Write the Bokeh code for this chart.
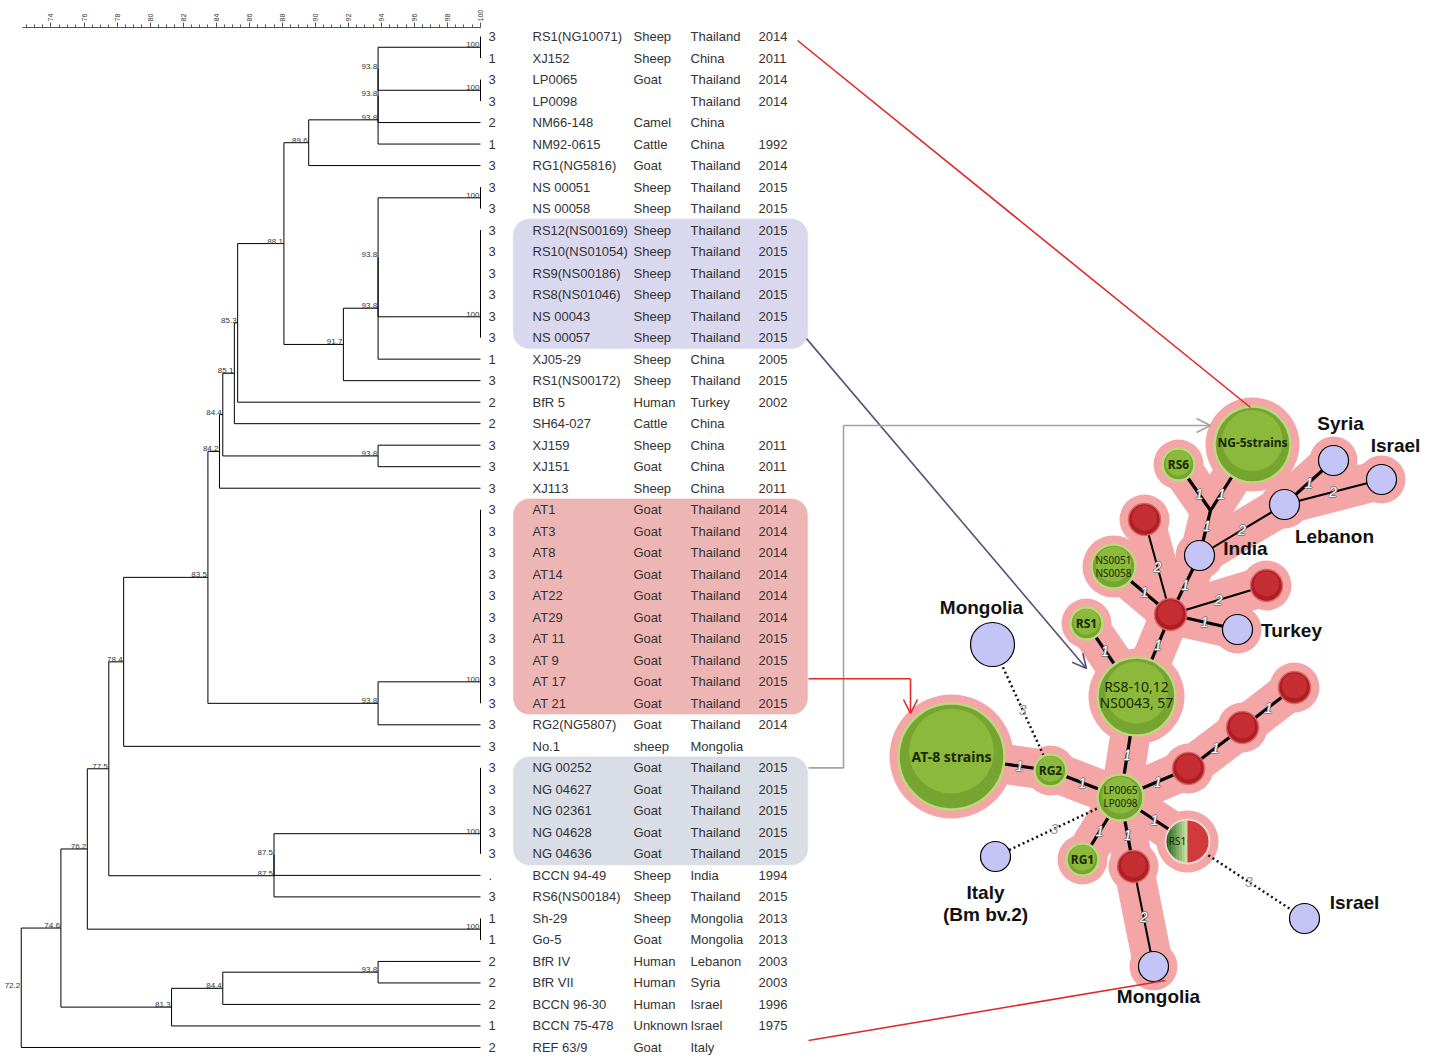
import numpy as np
from bokeh.plotting import figure
from bokeh.models import Range1d, LinearAxis, FixedTicker, BoxAnnotation, Arrow, OpenHead
from bokeh.core.properties import value
from bokeh.embed import file_html
from bokeh.resources import INLINE

# ---------------- data: strain table ----------------
groups = (["3", "1", "3", "3", "2", "1", "3", "3", "3",
           "3", "3", "3", "3", "3", "3",
           "1", "3", "2", "2", "3", "3", "3"]
          + ["3"] * 10 + ["3", "3"] + ["3"] * 5
          + [".", "3", "1", "1", "2", "2", "2", "1", "2"])
names = ["RS1(NG10071)", "XJ152", "LP0065", "LP0098", "NM66-148", "NM92-0615", "RG1(NG5816)",
         "NS 00051", "NS 00058", "RS12(NS00169)", "RS10(NS01054)", "RS9(NS00186)", "RS8(NS01046)",
         "NS 00043", "NS 00057", "XJ05-29", "RS1(NS00172)", "BfR 5", "SH64-027", "XJ159", "XJ151",
         "XJ113", "AT1", "AT3", "AT8", "AT14", "AT22", "AT29", "AT 11", "AT 9", "AT 17", "AT 21",
         "RG2(NG5807)", "No.1", "NG 00252", "NG 04627", "NG 02361", "NG 04628", "NG 04636",
         "BCCN 94-49", "RS6(NS00184)", "Sh-29", "Go-5", "BfR IV", "BfR VII", "BCCN 96-30",
         "BCCN 75-478", "REF 63/9"]
hosts = (["Sheep", "Sheep", "Goat", "", "Camel", "Cattle", "Goat", "Sheep", "Sheep"]
         + ["Sheep"] * 6
         + ["Sheep", "Sheep", "Human", "Cattle", "Sheep", "Goat", "Sheep"]
         + ["Goat"] * 10 + ["Goat", "sheep"] + ["Goat"] * 5
         + ["Sheep", "Sheep", "Sheep", "Goat", "Human", "Human", "Human", "Unknown", "Goat"])
countries = (["Thailand", "China", "Thailand", "Thailand", "China", "China", "Thailand", "Thailand", "Thailand"]
             + ["Thailand"] * 6
             + ["China", "Thailand", "Turkey", "China", "China", "China", "China"]
             + ["Thailand"] * 10 + ["Thailand", "Mongolia"] + ["Thailand"] * 5
             + ["India", "Thailand", "Mongolia", "Mongolia", "Lebanon", "Syria", "Israel", "Israel", "Italy"])
years = (["2014", "2011", "2014", "2014", "", "1992", "2014", "2015", "2015"]
         + ["2015"] * 6
         + ["2005", "2015", "2002", "", "2011", "2011", "2011"]
         + ["2014"] * 6 + ["2015"] * 4 + ["2014", ""] + ["2015"] * 5
         + ["1994", "2015", "2013", "2013", "2003", "2003", "1996", "1975", ""])

# dendrogram merges (child a, child b, similarity %); leaves 0..47, merge k -> id 48+k
merges = [
    (0, 1, 100), (2, 3, 100), (48, 49, 93.8), (50, 4, 93.8), (51, 5, 93.8), (52, 6, 89.6),
    (7, 8, 100), (9, 10, 100), (55, 11, 100), (56, 12, 100), (57, 13, 100), (58, 14, 100),
    (54, 59, 93.8), (60, 15, 93.8), (61, 16, 91.7), (53, 62, 88.1), (63, 17, 85.3),
    (64, 18, 85.1), (19, 20, 93.8), (65, 66, 84.4), (67, 21, 84.2),
    (22, 23, 100), (69, 24, 100), (70, 25, 100), (71, 26, 100), (72, 27, 100), (73, 28, 100),
    (74, 29, 100), (75, 30, 100), (76, 31, 100), (77, 32, 93.8), (68, 78, 83.5), (79, 33, 78.4),
    (34, 35, 100), (81, 36, 100), (82, 37, 100), (83, 38, 100), (84, 39, 87.5), (85, 40, 87.5),
    (80, 86, 77.5), (41, 42, 100), (87, 88, 76.2), (43, 44, 93.8), (90, 45, 84.4),
    (91, 46, 81.3), (89, 92, 74.6), (93, 47, 72.2),
]
axis_ticks = [74, 76, 78, 80, 82, 84, 86, 88, 90, 92, 94, 96, 98, 100]

# highlighted row blocks (first row, last row)
blocks = [(9, 14), (22, 31), (34, 38)]
block_fill = ["#d9d8ef", "#eeb5b5", "#d8dde6"]
block_line = ["#c9c8e6", "#e6a6a6", "#c9ced8"]

# ---------------- data: minimum spanning tree ----------------
net_ids = ["NG5", "RS6", "Syria", "IsraelA", "Lebanon", "India", "RedTop", "NS51", "Hub",
           "RedRight", "Turkey", "RS1a", "MongA", "RS8", "LP", "Ch1", "Ch2", "Ch3", "RS1b",
           "RG1", "RedLow", "RG2", "AT8", "Italy", "IsraelB", "MongB", "J"]
net_x = [1252, 1178, 1333, 1381, 1284, 1199, 1144, 1113, 1170, 1266, 1237, 1086, 992, 1136,
         1120, 1188, 1242, 1294, 1187, 1082, 1133, 1050, 951, 995, 1304, 1153, 1210]
net_y = [444, 464, 460, 479, 504, 555, 519, 566, 614, 585, 629, 623, 644, 696, 797, 768, 727,
         687, 841, 859, 866, 770, 756, 856, 918, 966, 510]
net_r = [38, 16, 15, 15, 15, 15, 16, 22, 16, 16, 15, 16, 22, 39, 23, 16, 16, 16, 22, 16, 16,
         16, 53, 15, 15, 15, 0]
net_kind = ["g", "g", "b", "b", "b", "b", "r", "g", "r", "r", "b", "g", "b", "g", "g", "r", "r",
            "r", "h", "g", "r", "g", "g", "b", "b", "b", "j"]
net_halo = [1, 1, 1, 1, 1, 1, 1, 1, 1, 1, 1, 1, 0, 1, 1, 1, 1, 1, 1, 1, 1, 1, 1, 0, 0, 1, 0]

edges = [("AT8", "RG2", "1"), ("RG2", "LP", "1"), ("LP", "RS8", "1"), ("RS8", "Hub", "1"),
         ("RS8", "RS1a", "1"), ("Hub", "NS51", "1"), ("Hub", "RedTop", "2"), ("Hub", "India", "1"),
         ("Hub", "RedRight", "2"), ("Hub", "Turkey", "1"), ("India", "J", "1"), ("J", "RS6", "1"),
         ("J", "NG5", "1"), ("India", "Lebanon", "2"), ("Lebanon", "Syria", "1"),
         ("Lebanon", "IsraelA", "2"), ("LP", "Ch1", "1"), ("Ch1", "Ch2", "1"), ("Ch2", "Ch3", "1"),
         ("LP", "RG1", "1"), ("LP", "RedLow", "1"), ("LP", "RS1b", "1"), ("RedLow", "MongB", "2")]
dotted_edges = [("MongA", "RG2", "3"), ("Italy", "LP", "3"), ("RS1b", "IsraelB", "3")]

node_text = ["NG-5strains", "RS6", "NS0051", "NS0058", "RS1", "RS8-10,12", "NS0043, 57",
             "LP0065", "LP0098", "RS1", "RG1", "RG2", "AT-8 strains"]
node_text_of = ["NG5", "RS6", "NS51", "NS51", "RS1a", "RS8", "RS8", "LP", "LP", "RS1b", "RG1",
                "RG2", "AT8"]
node_text_dx = [0, 0, 0, 0, 0, 0, 0, 0, 0, -10, 0, 0, 0]
node_text_dy = [-2, 0, -7, 6, 0, -10, 6, -8, 5, -1, 0, 0, 0]
node_text_size = ["12px", "12px", "10px", "10px", "12px", "14px", "14px", "10px", "10px",
                  "10px", "12px", "12px", "14px"]
node_text_bold = [1, 1, 0, 0, 1, 0, 0, 0, 0, 0, 1, 1, 1]

place_text = ["Syria", "Israel", "Lebanon", "India", "Turkey", "Mongolia", "Italy",
              "(Bm bv.2)", "Israel", "Mongolia"]
place_x = [1340, 1395, 1334, 1245, 1291, 981, 985, 985, 1354, 1158]
place_y = [423, 445, 536, 548, 630, 607, 892, 914, 902, 996]

# ---------------- layout constants ----------------
W, H, PAD, TOP = 1430, 1060, 0, 27
X100, PXU = 480.0, 16.52          # pixel of 100 % and pixels per % unit
ROW0, ROWH = 36.0, 21.51          # pixel of first row, row pitch
FONT = value("Liberation Sans")

p = figure(width=W, height=H, output_backend="svg", toolbar_location=None,
           x_range=Range1d(PAD, PAD + W), y_range=Range1d(PAD + H, PAD + TOP),
           x_axis_location=None, y_axis_location=None,
           min_border_left=0, min_border_right=0, min_border_bottom=0, min_border_top=TOP)
p.outline_line_color = None
p.grid.visible = False
p.background_fill_color = "white"
p.border_fill_color = "white"
p.extra_x_ranges = {"sim": Range1d(100 + (PAD - X100) / PXU, 100 + (PAD + W - X100) / PXU)}
p.extra_y_ranges = {"row": Range1d((PAD + H - ROW0) / ROWH, (PAD + TOP - ROW0) / ROWH)}

# similarity axis on top
ax = LinearAxis(x_range_name="sim", bounds=(72.3, 100),
                ticker=FixedTicker(ticks=axis_ticks,
                                   minor_ticks=[float(v) for v in np.arange(72.5, 100.01, 0.5)]),
                major_label_orientation="vertical", major_label_text_font_size="7px",
                major_label_text_font="Liberation Sans", major_label_standoff=1,
                major_label_text_color="#333333",
                major_tick_out=5, major_tick_in=0, minor_tick_out=3, minor_tick_in=0,
                axis_line_color="#555555", major_tick_line_color="#555555",
                minor_tick_line_color="#555555")
p.add_layout(ax, "above")

# highlight boxes
for (r0, r1), fc, lc in zip(blocks, block_fill, block_line):
    p.add_layout(BoxAnnotation(left=513, right=807, top=r0 - 0.5, bottom=r1 + 0.5,
                               y_range_name="row", fill_color=fc, fill_alpha=1.0,
                               line_color=lc, line_width=1.5, border_radius=16,
                               level="underlay"))

# table text
rows = list(range(len(names)))
for xcol, col in [(488, groups), (532, names), (633, hosts), (690, countries), (758, years)]:
    p.text(x=[xcol] * len(rows), y=rows, text=col, y_range_name="row",
           text_baseline="middle", text_align="left", text_font=FONT,
           text_font_size="13px", text_color="#333333")

# dendrogram geometry
ypos = [float(i) for i in range(len(names))]
simv = [100.0] * len(names)
psim = {}
for a, b, s in merges:
    ypos.append((ypos[a] + ypos[b]) / 2.0)
    simv.append(float(s))
    psim[a] = s
    psim[b] = s
x0, y0, x1, y1 = [], [], [], []
lab_x, lab_y, lab_t = [], [], []
for k, (a, b, s) in enumerate(merges):
    nid = len(names) + k
    x0 += [s, s, s]
    y0 += [ypos[a], ypos[a], ypos[b]]
    x1 += [s, simv[a], simv[b]]
    y1 += [ypos[b], ypos[a], ypos[b]]
    if not (s == 100 and psim.get(nid) == 100):
        lab_x.append(s)
        lab_y.append(ypos[nid])
        lab_t.append(f"{float(s):g}")
p.segment(x0=x0, y0=y0, x1=x1, y1=y1, x_range_name="sim", y_range_name="row",
          line_color="black", line_width=1)
p.text(x=lab_x, y=lab_y, text=lab_t, x_range_name="sim", y_range_name="row",
       text_align="right", text_baseline="bottom", x_offset=-1, y_offset=0,
       text_font=FONT, text_font_size="8px", text_color="#333333")

# ---------------- network ----------------
idx = {n: i for i, n in enumerate(net_ids)}
HALO = "#f4a5a5"


def seg_ends(a, b):
    ia, ib = idx[a], idx[b]
    ax_, ay_, bx_, by_ = net_x[ia], net_y[ia], net_x[ib], net_y[ib]
    d = np.hypot(bx_ - ax_, by_ - ay_)
    ux, uy = (bx_ - ax_) / d, (by_ - ay_) / d
    px0, py0 = ax_ + ux * net_r[ia], ay_ + uy * net_r[ia]
    px1, py1 = bx_ - ux * net_r[ib], by_ - uy * net_r[ib]
    return (ax_, ay_, bx_, by_), ((px0 + px1) / 2, (py0 + py1) / 2)


# halo
hx = [[net_x[idx[a]], net_x[idx[b]]] for a, b, _ in edges]
hy = [[net_y[idx[a]], net_y[idx[b]]] for a, b, _ in edges]
p.multi_line(xs=hx, ys=hy, line_width=40, line_color=HALO, line_cap="round", line_join="round")
hi = [i for i in range(len(net_ids)) if net_halo[i] and net_r[i] > 0]
p.circle(x=[net_x[i] for i in hi], y=[net_y[i] for i in hi],
         radius=[net_r[i] + 9 for i in hi], fill_color=HALO, line_color=None)

# solid edges
for a, b, lab in edges:
    (xa, ya, xb, yb), _ = seg_ends(a, b)
    p.line([xa, xb], [ya, yb], line_color="black", line_width=3.2 if lab == "1" else 2.0)
# dotted edges
for a, b, lab in dotted_edges:
    (xa, ya, xb, yb), _ = seg_ends(a, b)
    p.line([xa, xb], [ya, yb], line_color="#111111", line_width=2.5, line_dash="2 3")

# nodes
def sel(kind):
    return [i for i in range(len(net_ids)) if net_kind[i] == kind]


g = sel("g")
gx = [net_x[i] for i in g]
gy = [net_y[i] for i in g]
gr = [net_r[i] for i in g]
p.circle(x=gx, y=gy, radius=gr, fill_color="#76a430", line_color="#bdd77f", line_width=2.5)
p.circle(x=gx, y=[yy - 0.1 * rr for yy, rr in zip(gy, gr)], radius=[0.8 * rr for rr in gr],
         fill_color="#8fbd3d", fill_alpha=0.85, line_color=None)
r = sel("r")
rx = [net_x[i] for i in r]
ry = [net_y[i] for i in r]
rrad = [net_r[i] for i in r]
p.circle(x=rx, y=ry, radius=rrad, fill_color="#ae1e24", line_color="#d96464", line_width=1.5)
p.circle(x=rx, y=[yy - 0.1 * rr for yy, rr in zip(ry, rrad)], radius=[0.78 * rr for rr in rrad],
         fill_color="#c83034", fill_alpha=0.9, line_color=None)
bl = sel("b")
p.circle(x=[net_x[i] for i in bl], y=[net_y[i] for i in bl], radius=[net_r[i] for i in bl],
         fill_color="#c4c4f7", line_color="black", line_width=1.2)

# half green / half red node
for i in sel("h"):
    cx, cy, rr = net_x[i], net_y[i], net_r[i]
    nstrip = 8
    c0, c1 = np.array([28, 104, 28]), np.array([196, 224, 156])
    xs_l, ys_l, cols = [], [], []
    for s in range(nstrip):
        xa = cx - rr + s * rr / nstrip
        xb = xa + rr / nstrip
        xx = np.linspace(xa, xb, 6)
        hh = np.sqrt(np.clip(rr ** 2 - (xx - cx) ** 2, 0, None))
        xs_l.append(list(xx) + list(xx[::-1]))
        ys_l.append(list(cy - hh) + list((cy + hh)[::-1]))
        t = s / (nstrip - 1)
        c = (c0 + (c1 - c0) * t).astype(int)
        cols.append("#%02x%02x%02x" % tuple(c))
    p.patches(xs=xs_l, ys=ys_l, fill_color=cols, line_color=cols, line_width=0.5)
    ang = np.linspace(-np.pi / 2, np.pi / 2, 40)
    p.patch(x=list(cx + rr * np.cos(ang)), y=list(cy + rr * np.sin(ang)),
            fill_color="#d03a3a", line_color=None)
    p.circle(x=[cx], y=[cy], radius=[rr], fill_color=None, line_color="#f3d3d3", line_width=2)

# labels inside nodes
for bold in (0, 1):
    sl = [j for j in range(len(node_text)) if node_text_bold[j] == bold]
    p.text(x=[net_x[idx[node_text_of[j]]] + node_text_dx[j] for j in sl],
           y=[net_y[idx[node_text_of[j]]] + node_text_dy[j] for j in sl],
           text=[node_text[j] for j in sl], text_align="center", text_baseline="middle",
           text_font=value("Noto Sans"), text_font_size=[node_text_size[j] for j in sl],
           text_font_style="bold" if bold else "normal", text_color="#1c2805")

# edge labels
el_x, el_y, el_t = [], [], []
for a, b, lab in edges:
    _, (mx, my) = seg_ends(a, b)
    el_x.append(mx)
    el_y.append(my)
    el_t.append(lab)
for ox, oy in [(-1, 0), (1, 0), (0, -1), (0, 1)]:
    p.text(x=el_x, y=el_y, text=el_t, x_offset=ox, y_offset=oy, text_align="center",
           text_baseline="middle", text_font=FONT, text_font_size="14px",
           text_font_style="italic", text_color="#7a7a7a")
p.text(x=el_x, y=el_y, text=el_t, text_align="center", text_baseline="middle", text_font=FONT,
       text_font_size="14px", text_font_style="italic", text_color="#ffffff")
dl_x, dl_y, dl_t = [], [], []
for a, b, lab in dotted_edges:
    _, (mx, my) = seg_ends(a, b)
    dl_x.append(mx)
    dl_y.append(my)
    dl_t.append(lab)
p.text(x=dl_x, y=dl_y, text=dl_t, text_align="center", text_baseline="middle", text_font=FONT,
       text_font_size="14px", text_font_style="italic", text_color="#9a9a9a")

# place names
p.text(x=place_x, y=place_y, text=place_text, text_align="center", text_baseline="middle",
       text_font=FONT, text_font_size="19px", text_font_style="bold", text_color="#111111")

# ---------------- connectors ----------------
def rowpx(rw):
    return ROW0 + rw * ROWH


RED, PURP, GREY = "#e02a2a", "#56527e", "#a3a3a3"
ng, rs8, at8, mgb = idx["NG5"], idx["RS8"], idx["AT8"], idx["MongB"]
# 1: first row -> NG-5 strains
p.line([797, net_x[ng] - 2], [rowpx(0) + 4, net_y[ng] - net_r[ng] + 1], line_color=RED,
       line_width=1.6)
# 2: RS block -> RS8 node
p.add_layout(Arrow(end=OpenHead(size=14, line_color=PURP, line_width=1.6),
                   x_start=806, y_start=rowpx(14) + 1,
                   x_end=net_x[rs8] - 50, y_end=net_y[rs8] - 28,
                   line_color=PURP, line_width=1.6))
# 3: NG block -> NG-5 strains (elbow)
yg = net_y[ng] - 19
p.line([808, 843, 843], [rowpx(34), rowpx(34), yg], line_color=GREY, line_width=1.6)
p.add_layout(Arrow(end=OpenHead(size=14, line_color=GREY, line_width=1.6),
                   x_start=843, y_start=yg, x_end=net_x[ng] - 42, y_end=yg,
                   line_color=GREY, line_width=1.6))
# 4: AT block -> AT-8 strains (elbow)
ya = rowpx(30) - 3
p.line([808, 910], [ya, ya], line_color=RED, line_width=1.6)
p.add_layout(Arrow(end=OpenHead(size=14, line_color=RED, line_width=1.6),
                   x_start=910, y_start=ya, x_end=910, y_end=net_y[at8] - 43,
                   line_color=RED, line_width=1.6))
# 5: last row -> Mongolia
p.line([808, net_x[mgb] + 12], [rowpx(47) - 7, net_y[mgb] + 14], line_color=RED,
       line_width=1.6)

open("out.html", "w").write(file_html(p, INLINE))
